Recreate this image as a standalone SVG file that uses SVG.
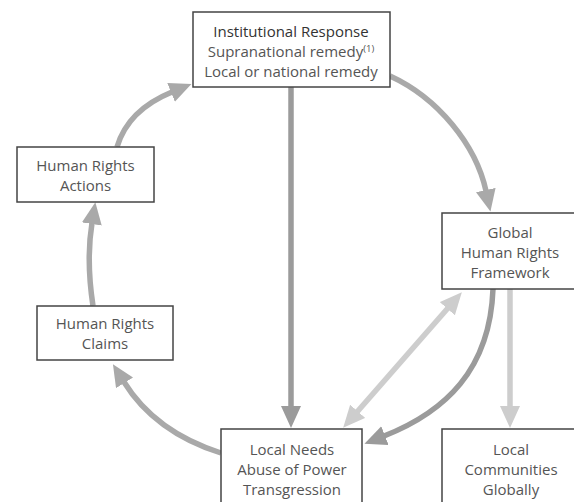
<svg xmlns="http://www.w3.org/2000/svg" width="574" height="502" viewBox="0 0 574 502">
<style>
.box{fill:#fff;stroke:#444;stroke-width:1.5}
.t{font-family:"Open Sans","DejaVu Sans",sans-serif;font-size:15px;fill:#555;text-anchor:middle}
.h{fill:#333}
.a{fill:none;stroke-width:5.5}
.mid{stroke:#a9a9a9}
.dark{stroke:#9b9b9b}
.light{stroke:#cdcdcd}
</style>
<defs>
<marker id="am" markerUnits="userSpaceOnUse" markerWidth="24" markerHeight="22" refX="1" refY="10" orient="auto"><path d="M0,0 L22,10 L0,20 z" fill="#a9a9a9"/></marker>
<marker id="ad" markerUnits="userSpaceOnUse" markerWidth="24" markerHeight="22" refX="1" refY="10" orient="auto"><path d="M0,0 L22,10 L0,20 z" fill="#9b9b9b"/></marker>
<marker id="al" markerUnits="userSpaceOnUse" markerWidth="24" markerHeight="22" refX="1" refY="10" orient="auto-start-reverse"><path d="M0,0 L22,10 L0,20 z" fill="#cdcdcd"/></marker>
</defs>
<rect width="574" height="502" fill="#fff"/>
<g id="connectors">
<path class="a mid" d="M390,76 C438,98 476,145 486,191" marker-end="url(#am)"/>
<path class="a mid" d="M117,147 Q128,110 172,92" marker-end="url(#am)"/>
<path class="a mid" d="M93,306 Q86,260 92,223" marker-end="url(#am)"/>
<path class="a mid" d="M221,453 Q155,432 124,382" marker-end="url(#am)"/>
<path class="a dark" d="M291,87 L291,407" marker-end="url(#ad)"/>
<path class="a dark" d="M493,289 C490,370 445,412 384,436" marker-end="url(#ad)"/>
<path class="a light" d="M448,308 L357,412" marker-start="url(#al)" marker-end="url(#al)"/>
<path class="a light" d="M510,289 L510,407" marker-end="url(#al)"/>
</g>
<g id="institutional">
<rect class="box" x="193" y="12" width="197" height="75"/>
<text class="t h" x="291" y="37">Institutional Response</text>
<text class="t" x="291" y="57">Supranational remedy<tspan font-size="9.5" dy="-5">(1)</tspan></text>
<text class="t" x="291" y="77">Local or national remedy</text>
</g>
<g id="actions">
<rect class="box" x="17" y="147" width="137" height="55"/>
<text class="t" x="85.5" y="171">Human Rights</text>
<text class="t" x="85.5" y="191">Actions</text>
</g>
<g id="claims">
<rect class="box" x="37" y="306" width="136" height="54"/>
<text class="t" x="105" y="329">Human Rights</text>
<text class="t" x="105" y="349">Claims</text>
</g>
<g id="global">
<rect class="box" x="442" y="213" width="140" height="76"/>
<text class="t" x="510" y="238">Global</text>
<text class="t" x="510" y="258">Human Rights</text>
<text class="t" x="510" y="278">Framework</text>
</g>
<g id="localneeds">
<rect class="box" x="221" y="429" width="141" height="80"/>
<text class="t" x="292" y="455">Local Needs</text>
<text class="t" x="292" y="475">Abuse of Power</text>
<text class="t" x="292" y="495">Transgression</text>
</g>
<g id="communities">
<rect class="box" x="442" y="429" width="140" height="80"/>
<text class="t" x="511" y="455">Local</text>
<text class="t" x="511" y="475">Communities</text>
<text class="t" x="511" y="495">Globally</text>
</g>
</svg>
